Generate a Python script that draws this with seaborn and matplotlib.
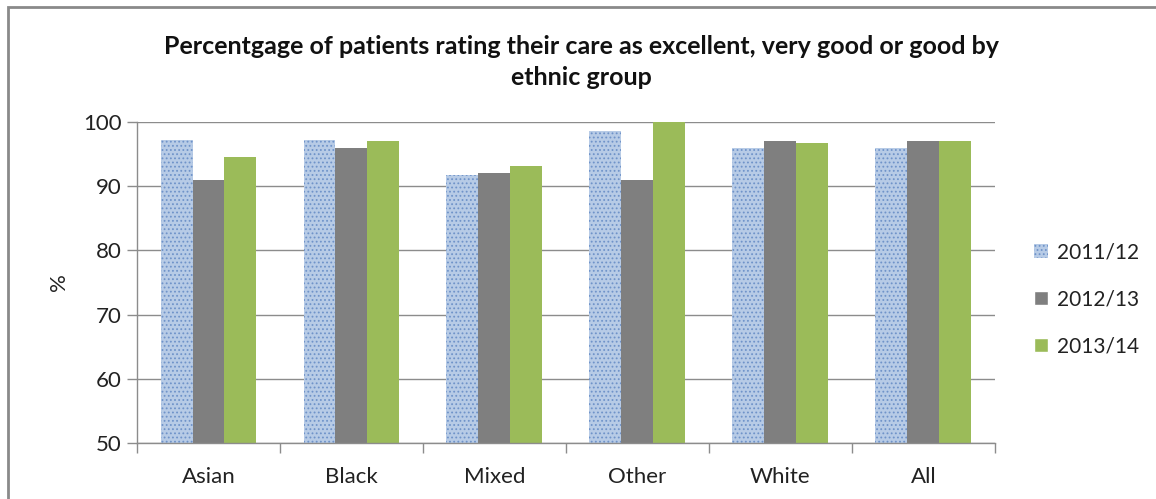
import matplotlib
matplotlib.use("Agg")
import matplotlib.pyplot as plt
from matplotlib.patches import Rectangle, Patch
import seaborn as sns
import pandas as pd

groups = ["Asian", "Black", "Mixed", "Other", "White", "All"]
years = ["2011/12", "2012/13", "2013/14"]
v_2011 = [97.2, 97.2, 91.8, 98.6, 96.0, 96.0]
v_2012 = [90.9, 95.9, 92.0, 90.9, 97.0, 97.0]
v_2013 = [94.5, 97.0, 93.2, 100.0, 96.8, 97.0]

df = pd.DataFrame({
    "group": groups * 3,
    "year": [years[0]] * 6 + [years[1]] * 6 + [years[2]] * 6,
    "value": v_2011 + v_2012 + v_2013,
})

sns.set_theme(style="white")
plt.rcParams["font.family"] = ["Lato", "DejaVu Sans"]
plt.rcParams["hatch.linewidth"] = 0.8

colors = ["#b7cbe6", "#7f7f7f", "#9bbb59"]

fig = plt.figure(figsize=(11.56, 4.99), dpi=100)
ax = fig.add_axes([0.1185, 0.112, 0.742, 0.6435])

sns.barplot(data=df, x="group", y="value", hue="year", order=groups,
            hue_order=years, palette=colors, width=0.67, gap=0,
            saturation=1, errorbar=None, legend=False, ax=ax,
            edgecolor="none", linewidth=0)

# dotted texture on the first series
n = len(groups)
for p in ax.patches[:n]:
    p.set_hatch("....")
    p.set_edgecolor("#6f93c9")
    p.set_linewidth(0)

ax.set_ylim(50, 100)
ax.set_xlim(-0.5, n - 0.5)
ax.set_yticks(range(50, 101, 10))
ax.yaxis.grid(True, color="#8c8c8c", linewidth=1)
ax.set_axisbelow(True)
for s in ["top", "right"]:
    ax.spines[s].set_visible(False)
for s in ["left", "bottom"]:
    ax.spines[s].set_color("#8c8c8c")
    ax.spines[s].set_linewidth(1)

ax.set_xticks([i - 0.5 for i in range(n + 1)], minor=True)
ax.tick_params(axis="x", which="minor", length=7, color="#8c8c8c", width=1,
               direction="out", bottom=True)
ax.tick_params(axis="x", which="major", length=0, labelsize=16, pad=17,
               labelcolor="#222222")
ax.tick_params(axis="y", length=7, color="#8c8c8c", width=1, direction="out",
               left=True, labelsize=16, labelcolor="#222222", pad=4)
ax.set_xlabel("")
ax.set_ylabel("%", fontsize=16, color="#222222", labelpad=10)

fig.text(0.503, 0.93,
         "Percentgage of patients rating their care as excellent, very good or good by\nethnic group",
         ha="center", va="top", fontsize=18, fontweight="bold",
         color="#111111", linespacing=1.45)

handles = [Patch(facecolor=colors[0], edgecolor="#6f93c9", hatch="....", linewidth=0),
           Patch(facecolor=colors[1]), Patch(facecolor=colors[2])]
fig.legend(handles, years, loc="center left", bbox_to_anchor=(0.878, 0.4),
           frameon=False, fontsize=15, handlelength=0.7, handleheight=0.7,
           handletextpad=0.4, labelspacing=1.3, labelcolor="#222222")

fig.add_artist(Rectangle((0.007, -0.1), 1.5, 1.086, transform=fig.transFigure,
                         fill=False, edgecolor="#8a8a8a", linewidth=2))

fig.savefig("out.png", dpi=100, facecolor="white")
